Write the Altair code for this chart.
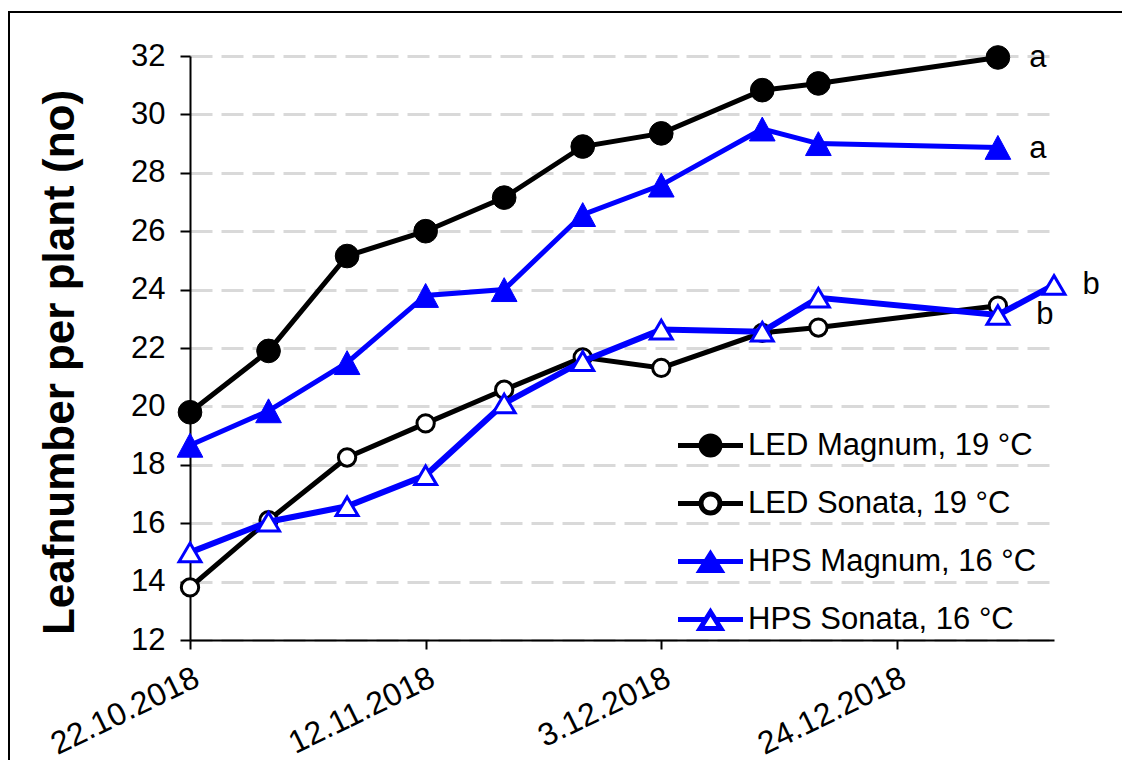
import altair as alt
import pandas as pd

# ---------------- data ----------------
dates = ["2018-10-22", "2018-10-29", "2018-11-05", "2018-11-12", "2018-11-19",
         "2018-11-26", "2018-12-03", "2018-12-12", "2018-12-17", "2019-01-02"]
dates_hps_sonata = dates + ["2019-01-07"]

led_magnum = [19.8, 21.9, 25.15, 26.0, 27.15, 28.9, 29.35, 30.83, 31.06, 31.95]
led_sonata = [13.8, 16.1, 18.25, 19.42, 20.57, 21.68, 21.32, 22.52, 22.7, 23.45]
hps_magnum = [18.67, 19.85, 21.5, 23.8, 24.0, 26.57, 27.58, 29.5, 29.0, 28.87]
hps_sonata = [15.0, 16.05, 16.58, 17.64, 20.1, 21.55, 22.63, 22.56, 23.72, 23.13, 24.16]

series_names = ["LED Magnum, 19 °C", "LED Sonata, 19 °C",
                "HPS Magnum, 16 °C", "HPS Sonata, 16 °C"]

letters = ["a", "a", "b", "b"]
letter_dates = ["2019-01-02", "2019-01-02", "2019-01-07", "2019-01-02"]
letter_values = [31.92, 28.8, 24.15, 23.13]

x_tick_dates = [(2018, 10, 22), (2018, 11, 12), (2018, 12, 3), (2018, 12, 24)]
x_domain = [(2018, 10, 22), (2019, 1, 7)]
y_ticks = [12, 14, 16, 18, 20, 22, 24, 26, 28, 30, 32]

y_title = "Leafnumber per plant (no)"

# ---------------- table ----------------
rows = []
for name, ds, vs in [(series_names[0], dates, led_magnum),
                     (series_names[1], dates, led_sonata),
                     (series_names[2], dates, hps_magnum),
                     (series_names[3], dates_hps_sonata, hps_sonata)]:
    for d, v in zip(ds, vs):
        rows.append({"date": d, "value": v, "series": name})
df = pd.DataFrame(rows)

# ---------------- styles ----------------
BLUE = "#0000ff"
BLACK = "#000000"
FONT = "Liberation Sans"
TRI_FILLED = "M0,-0.93L1,0.93L-1,0.93Z"
TRI_OPEN = "M0,-0.85L1,0.85L-1,0.85Z"

styles = {
    series_names[0]: dict(color=BLACK, lw=5, shape="circle", fill=BLACK, sw=1, size=560),
    series_names[1]: dict(color=BLACK, lw=5, shape="circle", fill="#ffffff", sw=3, size=300),
    series_names[2]: dict(color=BLUE, lw=5, shape=TRI_FILLED, fill=BLUE, sw=1, size=660),
    series_names[3]: dict(color=BLUE, lw=6, shape=TRI_OPEN, fill="#ffffff", sw=3, size=480),
}

legend_paths = [
    "M -1.25 0 H 1.25 M 0.365 0 A 0.365 0.365 0 1 1 -0.365 0 A 0.365 0.365 0 1 1 0.365 0 Z",
    "M -1.25 0 H -0.365 M 0.365 0 H 1.25 M 0.365 0 A 0.365 0.365 0 1 1 -0.365 0 A 0.365 0.365 0 1 1 0.365 0 Z",
    "M -1.25 0 H 1.25 M 0 -0.29 L 0.4 0.35 L -0.4 0.35 Z",
    "M -1.25 0 H -0.18 M 0.18 0 H 1.25 M 0 -0.29 L 0.4 0.35 L -0.4 0.35 Z",
]
legend_fills = [BLACK, "#ffffff", BLUE, "#ffffff"]
legend_strokes = [BLACK, BLACK, BLUE, BLUE]
letter_dx = [40, 40, 37, 47]

PAD = {"left": 182, "top": 48, "right": 68, "bottom": 120}
W, H = 864, 584


def dt(t):
    return alt.DateTime(year=t[0], month=t[1], date=t[2], utc=True)


x_enc = alt.X(
    "date:T",
    scale=alt.Scale(type="utc", domain=[dt(x_domain[0]), dt(x_domain[1])]),
    axis=alt.Axis(
        values=[dt(t) for t in x_tick_dates],
        labelExpr="utcFormat(datum.value, '%-d.%m.%Y')",
        title=None, labelAngle=334, labelAlign="right", labelBaseline="top",
        labelFontSize=32, labelColor=BLACK, labelFont=FONT, labelPadding=13,
        tickSize=9, tickWidth=2, tickColor=BLACK, domainColor=BLACK, domainWidth=2,
        grid=False, labelFlush=False, labelOverlap=False),
)
y_enc = alt.Y(
    "value:Q",
    scale=alt.Scale(domain=[12, 32], nice=False, zero=False),
    axis=alt.Axis(
        values=y_ticks, title=y_title, titleFontSize=44, titleFontWeight="bold",
        titleFont=FONT, titleColor=BLACK, titleAngle=270, titleX=-117, titleY=306,
        titleAlign="center", titleBaseline="alphabetic",
        labelFontSize=31, labelColor=BLACK, labelFont=FONT, labelPadding=15,
        tickSize=10, tickWidth=2, tickColor=BLACK, domainColor=BLACK, domainWidth=2,
        grid=True, gridColor="#d9d9d9", gridWidth=3, gridDash=[22, 9],
        labelFlush=False, labelOverlap=False),
)

layers = []

# outer frame: only its top and left edges fall inside the picture
right_edge = W + PAD["right"]
bottom_edge = H + PAD["bottom"]
one = pd.DataFrame({"k": [0]})
layers.append(alt.Chart(one).mark_rule(color=BLACK, strokeWidth=2).encode(
    x=alt.value(-181), y=alt.value(-45), y2=alt.value(bottom_edge)))
layers.append(alt.Chart(one).mark_rule(color=BLACK, strokeWidth=2).encode(
    x=alt.value(-182), x2=alt.value(right_edge), y=alt.value(-44)))

for name in series_names:
    st = styles[name]
    base = alt.Chart(df).transform_filter(alt.datum.series == name)
    layers.append(base.mark_line(color=st["color"], strokeWidth=st["lw"]).encode(x=x_enc, y=y_enc))
    layers.append(base.mark_point(shape=st["shape"], filled=True, fill=st["fill"],
                                  stroke=st["color"], strokeWidth=st["sw"], size=st["size"],
                                  opacity=1).encode(x=x_enc, y=y_enc))

leg = alt.Legend(title=None, orient="none", legendX=492, legendY=361, padding=0,
                 labelFontSize=31, labelFont=FONT, labelColor=BLACK, labelLimit=500,
                 labelOffset=9, symbolSize=2704, symbolStrokeWidth=5, symbolOpacity=1,
                 rowPadding=10)
legend_layer = alt.Chart(df).mark_point(opacity=0).encode(
    x=x_enc, y=y_enc,
    shape=alt.Shape("series:N", scale=alt.Scale(domain=series_names, range=legend_paths), legend=leg),
    fill=alt.Fill("series:N", scale=alt.Scale(domain=series_names, range=legend_fills), legend=leg),
    stroke=alt.Stroke("series:N", scale=alt.Scale(domain=series_names, range=legend_strokes), legend=leg),
)
layers.append(legend_layer)

for i in range(len(letters)):
    ann = pd.DataFrame({"date": [letter_dates[i]], "value": [letter_values[i]], "letter": [letters[i]]})
    layers.append(alt.Chart(ann).mark_text(
        dx=letter_dx[i], fontSize=31, font=FONT, color=BLACK, align="center", baseline="middle"
    ).encode(x=x_enc, y=y_enc, text="letter:N"))

chart = alt.layer(*layers).properties(
    width=W, height=H,
    autosize=alt.AutoSizeParams(type="none"),
    padding=PAD,
    background="white",
).configure(font=FONT).configure_view(strokeWidth=0)

chart.save("out.html", embed_options={"renderer": "svg", "actions": False})
